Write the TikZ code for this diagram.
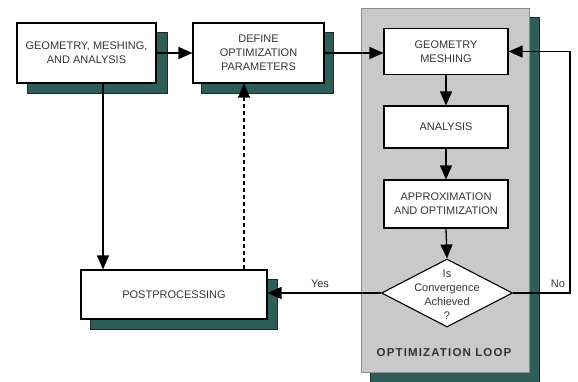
\documentclass[tikz,border=0pt]{standalone}
\usepackage{fontspec}
\setmainfont{Liberation Sans}
\usetikzlibrary{shapes.geometric,arrows.meta}
\pgfdeclarelayer{background}
\pgfsetlayers{background,main}
\definecolor{shad}{HTML}{2F5E5A}
\definecolor{loopg}{HTML}{C9C9C9}
\definecolor{txt}{HTML}{363636}
\begin{document}
\begin{tikzpicture}[x=1pt,y=-1pt,
  box/.style={draw=black, line width=1.1pt, fill=white, align=center, inner sep=0pt,
    font=\fontsize{11}{14}\selectfont, text=txt},
  arr/.style={line width=1.3pt, -{Triangle[length=14pt,width=12pt]}},
  lbl/.style={font=\fontsize{11}{13}\selectfont, text=txt, inner sep=1pt},
  shadowbox/.style={fill=shad, draw=black!85, line width=0.6pt}]
\useasboundingbox (0,0) rectangle (578,381);
% optimization loop panel
\node[draw=black!45, line width=0.8pt, fill=loopg, minimum width=168pt, minimum height=364pt, inner sep=0pt] (loop) at (445,190) {};
\node[font=\fontsize{11.5}{13}\bfseries\addfontfeature{LetterSpace=10}, text=black!80] (looplbl) at (444,353) {OPTIMIZATION LOOP};
% boxes
\node[box, minimum width=139pt, minimum height=60pt] (b1) at (86.5,53) {GEOMETRY, MESHING,\\AND ANALYSIS};
\node[box, minimum width=131pt, minimum height=60pt] (b2) at (258.5,53) {DEFINE\\OPTIMIZATION\\PARAMETERS};
\node[box, minimum width=124pt, minimum height=46pt] (gm) at (446,51.5) {GEOMETRY\\MESHING};
\node[box, minimum width=124pt, minimum height=42pt] (an) at (446,127) {ANALYSIS};
\node[box, minimum width=124pt, minimum height=48pt] (ap) at (446,204) {APPROXIMATION\\AND OPTIMIZATION};
\node[draw=black, line width=1.1pt, fill=white, diamond, minimum width=131pt, minimum height=68pt, inner sep=0pt] (dec) at (447,293) {};
\node[lbl, align=center, font=\fontsize{11}{14}\selectfont] (dect) at (447,294.5) {Is\\Convergence\\Achieved\\?};
\node[box, minimum width=186pt, minimum height=49pt] (pp) at (174,294.5) {POSTPROCESSING};
% shadows
\begin{pgfonlayer}{background}
\draw[shadowbox] ([shift={(10,10)}]loop.north west) rectangle ([shift={(10,10)}]loop.south east);
\draw[shadowbox] ([shift={(11,10)}]b1.north west) rectangle ([shift={(11,10)}]b1.south east);
\draw[shadowbox] ([shift={(9,10)}]b2.north west) rectangle ([shift={(9,10)}]b2.south east);
\draw[shadowbox] ([shift={(10,10)}]pp.north west) rectangle ([shift={(10,10)}]pp.south east);
\end{pgfonlayer}
% connectors
\coordinate (nc) at (570,0);
\draw[arr] (b1.east) -- (b2.west);
\draw[arr] (b2.east) -- (b2.east -| gm.west);
\draw[arr] (gm.south) -- (an.north);
\draw[arr] (an.south) -- (ap.north);
\draw[arr] (ap.south) -- (dec.north);
\draw[arr] (dec.east) -- (dec.east -| nc) |- (gm.east);
\draw[arr] (dec.west) -- (dec.west -| pp.east);
\draw[arr] ([xshift=16.5pt]b1.south) -- ([xshift=16.5pt]b1.south |- pp.north);
\draw[arr, dashed, dash pattern=on 4pt off 3pt] ([xshift=-14.5pt]b2.south |- pp.north) -- ([xshift=-14.5pt]b2.south);
\node[lbl] (yes) at (320,284) {Yes};
\node[lbl] (no) at (558,284) {No};
\end{tikzpicture}
\end{document}
